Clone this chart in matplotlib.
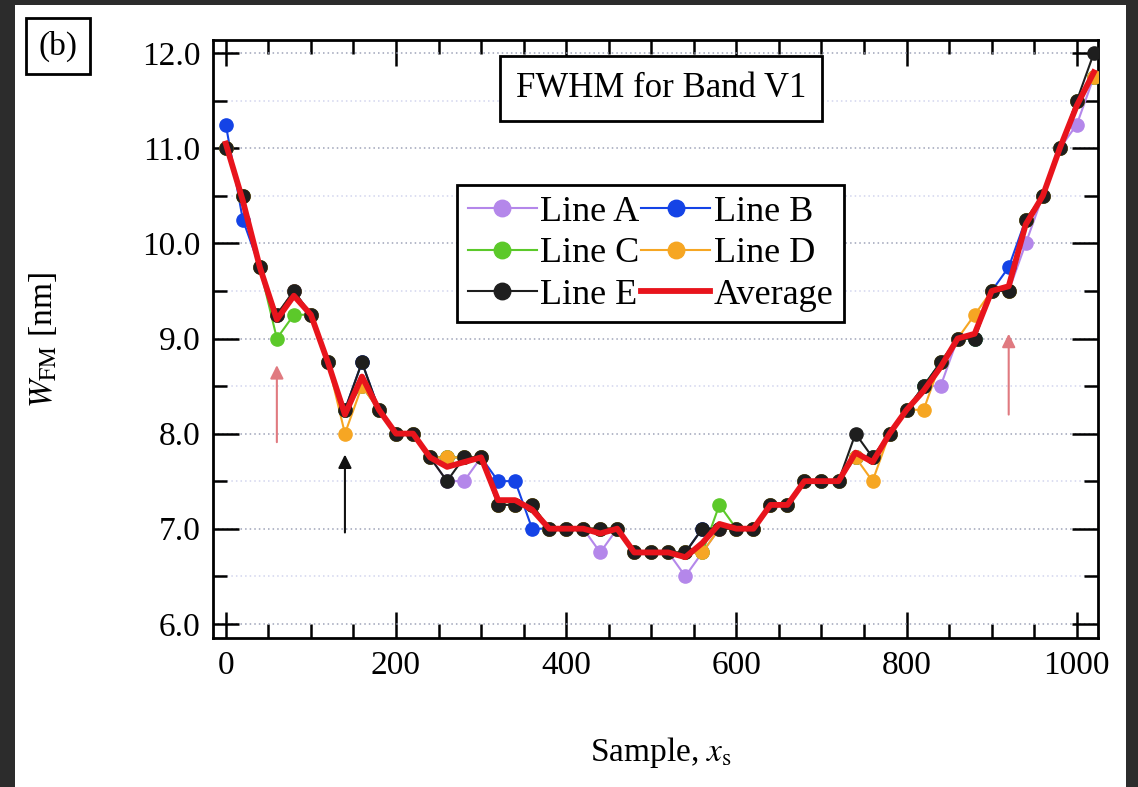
import matplotlib
matplotlib.use("Agg")
import matplotlib.pyplot as plt
from matplotlib.patches import Rectangle
from matplotlib.ticker import MultipleLocator

plt.rcParams['font.family'] = ['Liberation Serif', 'DejaVu Serif']
plt.rcParams['mathtext.fontset'] = 'stix'

# sample positions
xs = [0, 20, 40, 60, 80, 100, 120, 140, 160, 180,
      200, 220, 240, 260, 280, 300, 320, 340, 360, 380,
      400, 420, 440, 460, 480, 500, 520, 540, 560, 580,
      600, 620, 640, 660, 680, 700, 720, 740, 760, 780,
      800, 820, 840, 860, 880, 900, 920, 940, 960, 980,
      1000, 1020]

line_a = [11.0, 10.5, 9.75, 9.25, 9.5, 9.25, 8.75, 8.25, 8.5, 8.25,
          8.0, 8.0, 7.75, 7.5, 7.5, 7.75, 7.25, 7.25, 7.25, 7.0,
          7.0, 7.0, 6.75, 7.0, 6.75, 6.75, 6.75, 6.5, 6.75, 7.0,
          7.0, 7.0, 7.25, 7.25, 7.5, 7.5, 7.5, 7.75, 7.75, 8.0,
          8.25, 8.5, 8.5, 9.0, 9.0, 9.5, 9.5, 10.0, 10.5, 11.0,
          11.25, 11.75]
line_b = [11.25, 10.25, 9.75, 9.25, 9.5, 9.25, 8.75, 8.25, 8.75, 8.25,
          8.0, 8.0, 7.75, 7.75, 7.75, 7.75, 7.5, 7.5, 7.0, 7.0,
          7.0, 7.0, 7.0, 7.0, 6.75, 6.75, 6.75, 6.75, 7.0, 7.0,
          7.0, 7.0, 7.25, 7.25, 7.5, 7.5, 7.5, 7.75, 7.75, 8.0,
          8.25, 8.5, 8.75, 9.0, 9.0, 9.5, 9.75, 10.25, 10.5, 11.0,
          11.5, 11.75]
line_c = [11.0, 10.5, 9.75, 9.0, 9.25, 9.25, 8.75, 8.25, 8.5, 8.25,
          8.0, 8.0, 7.75, 7.75, 7.75, 7.75, 7.25, 7.25, 7.25, 7.0,
          7.0, 7.0, 7.0, 7.0, 6.75, 6.75, 6.75, 6.75, 6.75, 7.25,
          7.0, 7.0, 7.25, 7.25, 7.5, 7.5, 7.5, 7.75, 7.75, 8.0,
          8.25, 8.5, 8.75, 9.0, 9.0, 9.5, 9.5, 10.25, 10.5, 11.0,
          11.5, 11.75]
line_d = [11.0, 10.5, 9.75, 9.25, 9.5, 9.25, 8.75, 8.0, 8.5, 8.25,
          8.0, 8.0, 7.75, 7.75, 7.75, 7.75, 7.25, 7.25, 7.25, 7.0,
          7.0, 7.0, 7.0, 7.0, 6.75, 6.75, 6.75, 6.75, 6.75, 7.0,
          7.0, 7.0, 7.25, 7.25, 7.5, 7.5, 7.5, 7.75, 7.5, 8.0,
          8.25, 8.25, 8.75, 9.0, 9.25, 9.5, 9.5, 10.25, 10.5, 11.0,
          11.5, 11.75]
line_e = [11.0, 10.5, 9.75, 9.25, 9.5, 9.25, 8.75, 8.25, 8.75, 8.25,
          8.0, 8.0, 7.75, 7.5, 7.75, 7.75, 7.25, 7.25, 7.25, 7.0,
          7.0, 7.0, 7.0, 7.0, 6.75, 6.75, 6.75, 6.75, 7.0, 7.0,
          7.0, 7.0, 7.25, 7.25, 7.5, 7.5, 7.5, 8.0, 7.75, 8.0,
          8.25, 8.5, 8.75, 9.0, 9.0, 9.5, 9.5, 10.25, 10.5, 11.0,
          11.5, 12.0]
average = [11.05, 10.45, 9.75, 9.2, 9.45, 9.25, 8.75, 8.2, 8.6, 8.25,
           8.0, 8.0, 7.75, 7.65, 7.7, 7.75, 7.3, 7.3, 7.2, 7.0,
           7.0, 7.0, 6.95, 7.0, 6.75, 6.75, 6.75, 6.7, 6.85, 7.05,
           7.0, 7.0, 7.25, 7.25, 7.5, 7.5, 7.5, 7.8, 7.7, 8.0,
           8.25, 8.45, 8.7, 9.0, 9.05, 9.5, 9.55, 10.2, 10.5, 11.0,
           11.45, 11.8]

series = [('Line A', line_a, '#b487ea'),
          ('Line B', line_b, '#1443e6'),
          ('Line C', line_c, '#5cc92a'),
          ('Line D', line_d, '#f6a623'),
          ('Line E', line_e, '#1e1e1e')]

# arrows: (x, y_start, y_end, colour)
arrows = [(60, 7.91, 8.72, '#e07a80'),
          (140, 6.96, 7.78, '#111111'),
          (920, 8.2, 9.05, '#e07a80')]

fig = plt.figure(figsize=(11.38, 7.87), dpi=100)
fig.patch.set_facecolor('#2c2c2c')
fig.patches.append(Rectangle((15 / 1138, 0), 1111 / 1138, 782 / 787,
                             transform=fig.transFigure, facecolor='white',
                             edgecolor='none', zorder=-5))

ax = fig.add_axes([0.1872, 0.1893, 0.7777, 0.7599])

handles = {}
for name, vals, col in series:
    h, = ax.plot(xs, vals, '-o', color=col, lw=1.5, ms=9.5, label=name, zorder=3)
    handles[name] = h
h, = ax.plot(xs, average, '-', color='#e8141c', lw=4.2, label='Average', zorder=4)
handles['Average'] = h

for x, y0, y1, col in arrows:
    ax.annotate('', xy=(x, y1), xytext=(x, y0),
                arrowprops=dict(arrowstyle='-|>', color=col, lw=1.5,
                                mutation_scale=20, shrinkA=0, shrinkB=0))

ax.set_xlim(-15, 1025)
ax.set_ylim(5.85, 12.14)
ax.xaxis.set_major_locator(MultipleLocator(200))
ax.xaxis.set_minor_locator(MultipleLocator(50))
ax.yaxis.set_major_locator(MultipleLocator(1.0))
ax.yaxis.set_minor_locator(MultipleLocator(0.5))
ax.yaxis.set_major_formatter(matplotlib.ticker.FormatStrFormatter('%.1f'))

ax.grid(axis='y', which='major', linestyle=(0, (1, 2)), color='#9ea3b8', lw=1.1, zorder=1)
ax.grid(axis='y', which='minor', linestyle=(0, (1, 2)), color='#d2d5ee', lw=1.1, zorder=1)

ax.tick_params(which='both', direction='in', top=True, right=True,
               labelsize=24, width=1.8, pad=9)
ax.tick_params(which='major', length=19)
ax.tick_params(which='minor', length=10)
for sp in ax.spines.values():
    sp.set_linewidth(2.0)

ax.set_xlabel(r'Sample, $x_{\rm s}$', fontsize=24)
ax.xaxis.set_label_coords(0.506, -0.162)
ax.set_ylabel(r'$W_{\rm FM}$ [nm]', fontsize=24)
ax.yaxis.set_label_coords(-0.174, 0.498)

order = ['Line A', 'Line C', 'Line E', 'Line B', 'Line D', 'Average']
leg = ax.legend([handles[k] for k in order], order, ncol=2, loc='upper left',
                bbox_to_anchor=(0.276, 0.7575), borderaxespad=0, fontsize=26,
                handlelength=1.9, handletextpad=0.1, columnspacing=0.05,
                labelspacing=0.22, borderpad=0.3, markerscale=1.25,
                fancybox=False, framealpha=1)
leg.get_frame().set_edgecolor('black')
leg.get_frame().set_linewidth(2.0)

ax.text(0.506, 0.919, 'FWHM for Band V1', transform=ax.transAxes, fontsize=25,
        ha='center', va='center', zorder=6,
        bbox=dict(boxstyle='square,pad=0.45', facecolor='white',
                  edgecolor='black', lw=2.0))

fig.text(58 / 1138, 1 - 46 / 787, '(b)', fontsize=24, ha='center', va='center',
         bbox=dict(boxstyle='square,pad=0.38', facecolor='white',
                   edgecolor='black', lw=2.0))

fig.savefig('out.png', dpi=100, facecolor=fig.get_facecolor())
